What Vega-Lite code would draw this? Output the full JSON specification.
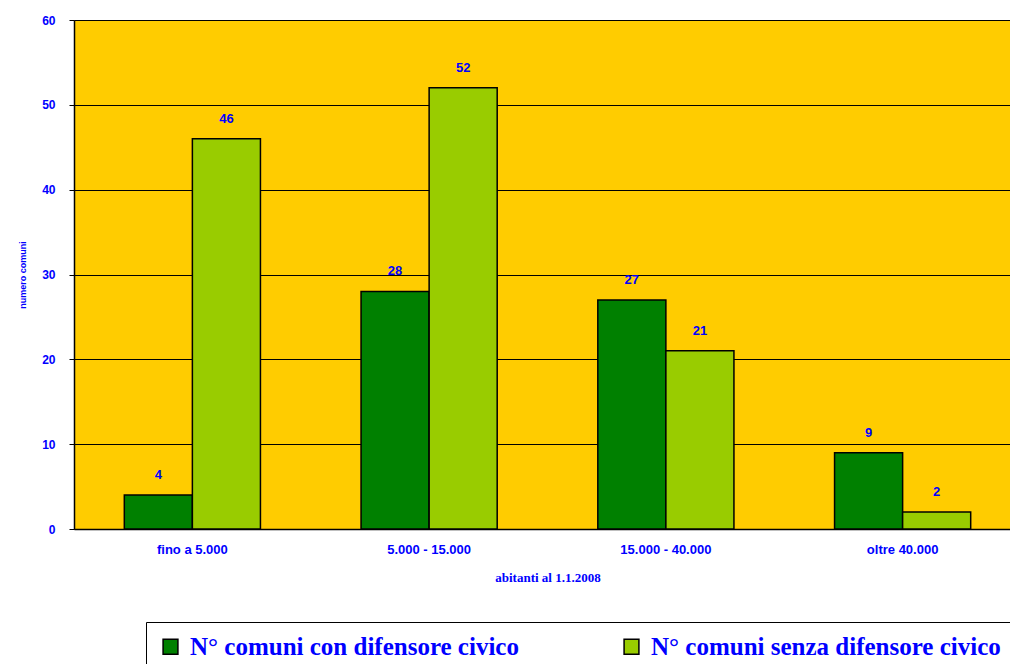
{
  "$schema": "https://vega.github.io/schema/vega-lite/v6.json",
  "autosize": {"type": "none"},
  "padding": {"left": 74, "top": 20, "right": 0, "bottom": 135},
  "width": 936,
  "height": 509,
  "background": "white",
  "config": {
    "view": {"fill": "#FFCC00", "stroke": "#808080", "strokeWidth": 1},
    "axis": {"labelColor": "#0000FF", "titleColor": "#0000FF"}
  },
  "data": {
    "values": [
      {"cat": "fino a 5.000", "serie": "N° comuni con difensore civico", "v": 4},
      {"cat": "fino a 5.000", "serie": "N° comuni senza difensore civico", "v": 46},
      {"cat": "5.000 - 15.000", "serie": "N° comuni con difensore civico", "v": 28},
      {"cat": "5.000 - 15.000", "serie": "N° comuni senza difensore civico", "v": 52},
      {"cat": "15.000 - 40.000", "serie": "N° comuni con difensore civico", "v": 27},
      {"cat": "15.000 - 40.000", "serie": "N° comuni senza difensore civico", "v": 21},
      {"cat": "oltre 40.000", "serie": "N° comuni con difensore civico", "v": 9},
      {"cat": "oltre 40.000", "serie": "N° comuni senza difensore civico", "v": 2}
    ]
  },
  "encoding": {
    "x": {
      "field": "cat", "type": "nominal", "sort": null,
      "scale": {"paddingInner": 0.425, "paddingOuter": 0.2125, "range": [0, 947]},
      "axis": {
        "title": "abitanti al 1.1.2008", "labelAngle": 0,
        "labelFont": "Liberation Sans", "labelFontWeight": "bold", "labelFontSize": 13,
        "labelPadding": 14, "ticks": false,
        "domainColor": "#000000", "domainWidth": 1.5,
        "titleFont": "Liberation Serif", "titleFontWeight": "bold", "titleFontSize": 13, "titlePadding": 15
      }
    },
    "xOffset": {"field": "serie", "type": "nominal"},
    "y": {
      "field": "v", "type": "quantitative",
      "scale": {"domain": [0, 60]},
      "axis": {
        "title": "numero comuni", "values": [0, 10, 20, 30, 40, 50, 60],
        "labelFont": "Liberation Sans", "labelFontWeight": "bold", "labelFontSize": 12,
        "labelPadding": 14, "tickColor": "#000000", "tickSize": 5,
        "domainColor": "#000000", "domainWidth": 1.5,
        "gridColor": "#000000", "gridWidth": 1,
        "titleFont": "Liberation Sans", "titleFontWeight": "bold", "titleFontSize": 9, "titlePadding": 14
      }
    }
  },
  "layer": [
    {
      "mark": {"type": "bar", "stroke": "#000000", "strokeWidth": 1.5},
      "encoding": {
        "color": {
          "field": "serie", "type": "nominal",
          "scale": {"range": ["#008000", "#99CC00"]},
          "legend": {
            "title": null, "orient": "none", "direction": "horizontal",
            "legendX": 72, "legendY": 602,
            "symbolType": "square", "symbolSize": 220, "symbolStrokeColor": "#000000", "symbolStrokeWidth": 1.5,
            "labelFont": "Liberation Serif", "labelFontWeight": "bold", "labelFontSize": 25,
            "labelColor": "#0000FF", "labelLimit": 500, "columnPadding": 100, "labelOffset": 7,
            "strokeColor": "#000000", "padding": 12, "fillColor": "white"
          }
        }
      }
    },
    {
      "mark": {"type": "text", "dy": -20, "font": "Liberation Sans", "fontWeight": "bold", "fontSize": 13, "color": "#0000FF"},
      "encoding": {"text": {"field": "v", "type": "quantitative"}}
    }
  ]
}
